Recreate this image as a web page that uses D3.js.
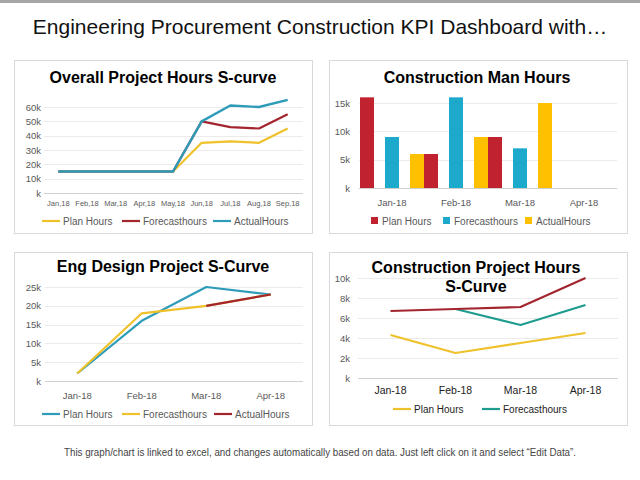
<!DOCTYPE html>
<html>
<head>
<meta charset="utf-8">
<script src="https://cdn.jsdelivr.net/npm/d3@7"></script>
<style>
html,body{margin:0;padding:0;background:#fff;}
svg{display:block;font-family:"Liberation Sans",Arial,sans-serif;}
</style>
</head>
<body>
<svg id="c" width="640" height="480"></svg>
<script>
// ---------- DATA ----------
const months1 = ["Jan,18","Feb,18","Mar,18","Apr,18","May,18","Jun,18","Jul,18","Aug,18","Sep,18"];
const c1Plan     = [15000,15000,15000,15000,15000,35000,36000,35000,45000];
const c1Forecast = [15000,15000,15000,15000,15000,50000,46000,45000,55000];
const c1Actual   = [15000,15000,15000,15000,15000,50000,61000,60000,65000];
const c1Ticks    = [0,10000,20000,30000,40000,50000,60000];

const months2 = ["Jan-18","Feb-18","Mar-18","Apr-18"];
const c2Plan     = [16000,6000,9000,0];
const c2Forecast = [9000,16000,7000,0];
const c2Actual   = [6000,9000,15000,0];
const c2Ticks    = [0,5000,10000,15000];

const months3 = ["Jan-18","Feb-18","Mar-18","Apr-18"];
const c3Plan     = [2000,16000,25000,23000];
const c3Forecast = [2000,18000,20000,23000];
const c3Actual   = [null,null,20000,23000];
const c3Ticks    = [0,5000,10000,15000,20000,25000];

const months4 = ["Jan-18","Feb-18","Mar-18","Apr-18"];
const c4Plan     = [4300,2500,3500,4500];
const c4Forecast = [null,6900,5300,7300];
const c4Actual   = [6700,6900,7100,10000];
const c4Ticks    = [0,2000,4000,6000,8000,10000];

const kfmt = d => (d === 0 ? "k" : (d/1000) + "k");

// ---------- COLORS ----------
const YEL = "#EFC12B", RED = "#A3262F", TEAL = "#2E9CB8", GREEN = "#1E9C8E";
const BRED = "#C0232F", BBLUE = "#1CA9CB", BYEL = "#FFC000";

const svg = d3.select("#c");

// top bar
svg.append("rect").attr("x",0).attr("y",0).attr("width",640).attr("height",3).attr("fill","#a6a6a6");

// main title
svg.append("text").attr("x",320).attr("y",34).attr("text-anchor","middle")
  .attr("font-size",21).attr("fill","#111")
  .text("Engineering Procurement Construction KPI Dashboard with…");

// footer
svg.append("text").attr("x",320).attr("y",456).attr("text-anchor","middle")
  .attr("font-size",10).attr("fill","#444").attr("textLength",512).attr("lengthAdjust","spacingAndGlyphs")
  .text("This graph/chart is linked to excel, and changes automatically based on data. Just left click on it and select “Edit Data”.");

// panels
function panel(x,y,w,h){
  svg.append("rect").attr("x",x+0.5).attr("y",y+0.5).attr("width",w).attr("height",h)
    .attr("fill","#fff").attr("stroke","#d9d9d9");
}
panel(14,60,298,173);
panel(329,60,298,173);
panel(14,252,298,173);
panel(329,252,298,173);

function yAxis(g, y, ticks, x0, x1, labelX, fs, col){
  g.append("g").selectAll("line").data(ticks.filter(t=>t!==0)).join("line")
    .attr("x1",x0).attr("x2",x1).attr("y1",d=>Math.round(y(d))+0.5).attr("y2",d=>Math.round(y(d))+0.5)
    .attr("stroke","#ebebeb");
  g.append("line").attr("x1",x0).attr("x2",x1).attr("y1",Math.round(y(0))+0.5).attr("y2",Math.round(y(0))+0.5)
    .attr("stroke","#d0d0d0");
  g.append("g").selectAll("text").data(ticks).join("text")
    .attr("x",labelX).attr("y",d=>y(d)+3.5).attr("text-anchor","end")
    .attr("font-size",fs).attr("fill",col||"#595959").text(kfmt);
}
function xLabels(g, x, cats, yy, fs, col, weight){
  g.append("g").selectAll("text").data(cats).join("text")
    .attr("x",d=>x(d)+x.bandwidth()/2).attr("y",yy).attr("text-anchor","middle")
    .attr("font-size",fs).attr("fill",col||"#595959").attr("font-weight",weight||"normal").text(d=>d);
}
function lineSeries(g, x, y, cats, vals, color, w){
  const line = d3.line().defined(d=>d[1]!==null)
    .x(d=>x(d[0])+x.bandwidth()/2).y(d=>y(d[1]));
  g.append("path").datum(cats.map((c,i)=>[c,vals[i]])).attr("d",line)
    .attr("fill","none").attr("stroke",color).attr("stroke-width",w||2.2).attr("stroke-linejoin","round");
}
function legendLine(g, items, yy, fs, col){
  items.forEach(it=>{
    g.append("line").attr("x1",it.x).attr("x2",it.x+18).attr("y1",yy).attr("y2",yy)
      .attr("stroke",it.c).attr("stroke-width",2.2);
    g.append("text").attr("x",it.x+21).attr("y",yy+3.5).attr("font-size",fs).attr("fill",col||"#595959").text(it.t);
  });
}
function title(g, lines, cx, y0, fs, lh){
  lh = lh || 0;
  lines.forEach((t,i)=>g.append("text").attr("x",cx).attr("y",y0+i*lh).attr("text-anchor","middle")
    .attr("font-size",fs).attr("font-weight","bold").attr("fill","#000").text(t));
}

// ---------- CHART 1 ----------
{
  const g = svg.append("g");
  title(g,["Overall Project Hours S-curve"],163,83,16);
  const x = d3.scaleBand().domain(months1).range([44,302]).padding(0);
  const y = d3.scaleLinear().domain([0,60000]).range([193,107]);
  yAxis(g,y,c1Ticks,44,303,41,9.5);
  xLabels(g,x,months1,206,7.5);
  lineSeries(g,x,y,months1,c1Plan,YEL);
  lineSeries(g,x,y,months1,c1Forecast,RED);
  lineSeries(g,x,y,months1,c1Actual,TEAL,2.4);
  legendLine(g,[{x:42,c:YEL,t:"Plan Hours"},{x:122,c:RED,t:"Forecasthours"},{x:213,c:TEAL,t:"ActualHours"}],221,10);
}

// ---------- CHART 2 ----------
{
  const g = svg.append("g");
  title(g,["Construction Man Hours"],477,83,16);
  const x = d3.scaleBand().domain(months2).range([360,616]).padding(0);
  const sub = d3.scaleBand().domain(["p","f","a"]).range([0,x.bandwidth()]).paddingInner(0.44).paddingOuter(0);
  const y = d3.scaleLinear().domain([0,15000]).range([188,103]);
  yAxis(g,y,c2Ticks,359,617,350,9.5);
  xLabels(g,x,months2,206,9.5);
  const series = [{k:"p",v:c2Plan,c:BRED},{k:"f",v:c2Forecast,c:BBLUE},{k:"a",v:c2Actual,c:BYEL}];
  series.forEach(s=>{
    g.append("g").selectAll("rect").data(months2.map((m,i)=>[m,s.v[i]])).join("rect")
      .attr("x",d=>x(d[0])+sub(s.k)).attr("width",sub.bandwidth())
      .attr("y",d=>y(d[1])).attr("height",d=>y(0)-y(d[1])).attr("fill",s.c);
  });
  const items=[{x:371,c:BRED,t:"Plan Hours"},{x:443,c:BBLUE,t:"Forecasthours"},{x:525,c:BYEL,t:"ActualHours"}];
  items.forEach(it=>{
    g.append("rect").attr("x",it.x).attr("y",217).attr("width",7).attr("height",7).attr("fill",it.c);
    g.append("text").attr("x",it.x+11).attr("y",224.5).attr("font-size",10).attr("fill","#595959").text(it.t);
  });
}

// ---------- CHART 3 ----------
{
  const g = svg.append("g");
  title(g,["Eng Design Project S-Curve"],163,272,16);
  const x = d3.scaleBand().domain(months3).range([45,303]).padding(0);
  const y = d3.scaleLinear().domain([0,25000]).range([381,287]);
  yAxis(g,y,c3Ticks,45,303,41,9.5);
  xLabels(g,x,months3,399,9.5);
  lineSeries(g,x,y,months3,c3Plan,TEAL);
  lineSeries(g,x,y,months3,c3Forecast,YEL);
  lineSeries(g,x,y,months3,c3Actual,RED);
  legendLine(g,[{x:42,c:TEAL,t:"Plan Hours"},{x:122,c:YEL,t:"Forecasthours"},{x:214,c:RED,t:"ActualHours"}],414,10);
}

// ---------- CHART 4 ----------
{
  const g = svg.append("g");
  const x = d3.scaleBand().domain(months4).range([358,618]).padding(0);
  const y = d3.scaleLinear().domain([0,10000]).range([378,278]);
  yAxis(g,y,c4Ticks,358,618,350,9.5);
  xLabels(g,x,months4,394,10.5,"#222");
  lineSeries(g,x,y,months4,c4Plan,YEL);
  lineSeries(g,x,y,months4,c4Forecast,GREEN);
  lineSeries(g,x,y,months4,c4Actual,RED);
  title(g,["Construction Project Hours","S-Curve"],476,273,16,19);
  legendLine(g,[{x:393,c:YEL,t:"Plan Hours"},{x:482,c:GREEN,t:"Forecasthours"}],409,10,"#222");
}
</script>
</body>
</html>
